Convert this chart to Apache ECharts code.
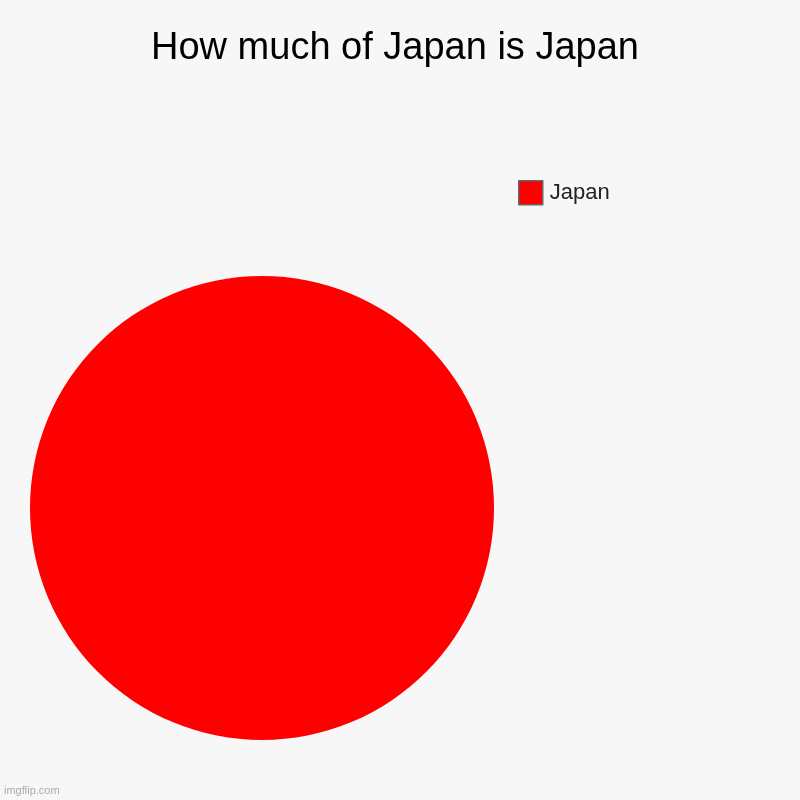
<!DOCTYPE html>
<html><head><meta charset="utf-8">
<script src="https://cdn.jsdelivr.net/npm/echarts@6/dist/echarts.min.js"></script>
<style>html,body{margin:0;padding:0;background:#f7f7f7;}#c{width:800px;height:800px;}</style>
</head><body><div id="c"></div>
<script>
const titleText = 'How much of Japan is Japan';
const categories = ["Japan"];
const values = [100];
const colors = ["#ff0000"];
const chart = echarts.init(document.getElementById('c'));
chart.setOption({
  backgroundColor: '#f7f7f7',
  animation: false,
  graphic: [{
    type: 'text', x: 395, y: 49,
    style: {text: titleText, fontFamily: 'Liberation Sans, Arial', fontSize: 38, fill: '#000',
            align: 'center', verticalAlign: 'middle'}
  }, {
    type: 'text', left: 4, top: 785,
    style: {text: 'imgflip.com', fontFamily: 'Liberation Sans, Arial', fontSize: 11, fill: '#aaaaaa'}
  }],
  legend: {
    left: 518, top: 180, orient: 'vertical', padding: 0,
    itemWidth: 24, itemHeight: 24, itemGap: 8,
    icon: 'rect',
    itemStyle: {borderColor: '#666666', borderWidth: 1.5},
    textStyle: {fontFamily: 'Liberation Sans, Arial', fontSize: 22, color: '#222', padding: [0, 0, 0, 2]},
    data: categories
  },
  series: [{
    type: 'pie',
    center: [262, 508],
    radius: [0, 232],
    label: {show: false},
    labelLine: {show: false},
    emphasis: {disabled: true},
    data: categories.map((c, i) => ({name: c, value: values[i], itemStyle: {color: colors[i]}}))
  }]
});
</script></body></html>
